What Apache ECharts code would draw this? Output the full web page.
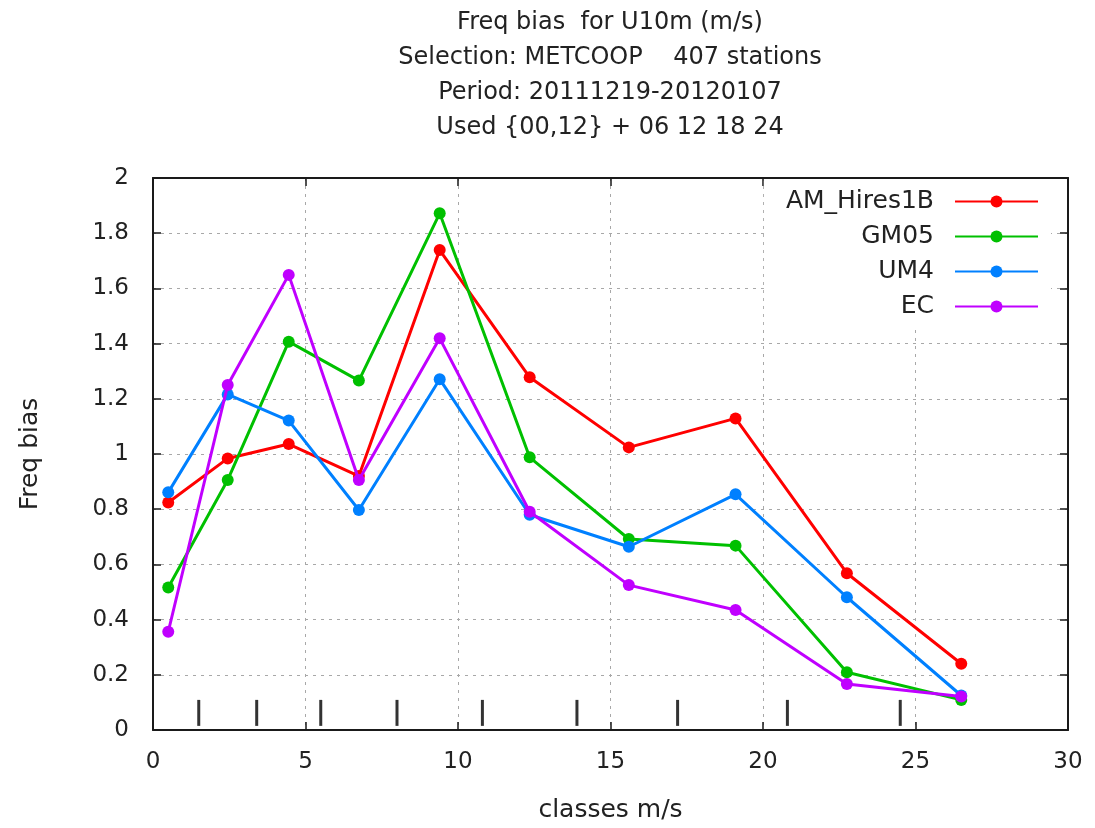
<!DOCTYPE html>
<html>
<head>
<meta charset="utf-8">
<script src="https://cdn.jsdelivr.net/npm/echarts@6/dist/echarts.min.js"></script>
<style>
  html, body { margin: 0; padding: 0; background: #fff; }
  #chart { width: 1095px; height: 828px; }
</style>
</head>
<body>
<div id="chart"></div>
<script>
// ---- data ----
const titleLines = [
  'Freq bias  for U10m (m/s)',
  'Selection: METCOOP    407 stations',
  'Period: 20111219-20120107',
  'Used {00,12} + 06 12 18 24'
];
const classCenters = [0.5, 2.45, 4.45, 6.75, 9.4, 12.35, 15.6, 19.1, 22.75, 26.5];
const classBounds = [1.5, 3.4, 5.5, 8.0, 10.8, 13.9, 17.2, 20.8, 24.5];
const boundMarkY = 0.062;
const seriesNames = ['AM_Hires1B', 'GM05', 'UM4', 'EC'];
const amHires1B = [0.824, 0.984, 1.036, 0.92, 1.739, 1.278, 1.024, 1.129, 0.568, 0.24];
const gm05      = [0.516, 0.906, 1.407, 1.266, 1.872, 0.988, 0.692, 0.668, 0.209, 0.109];
const um4       = [0.861, 1.216, 1.121, 0.797, 1.271, 0.78, 0.664, 0.854, 0.481, 0.125];
const ec        = [0.356, 1.25, 1.649, 0.906, 1.419, 0.791, 0.525, 0.435, 0.167, 0.121];
const colors = ['#ff0000', '#00c000', '#0080ff', '#c000ff'];
const xTicks = { min: 0, max: 30, interval: 5 };
const yTicks = { min: 0, max: 2, interval: 0.2 };

const FONT = 'DejaVu Sans';
const TXT = '#222';

function pairs(vals) { return classCenters.map((x, i) => [x, vals[i]]); }

const valueSets = [amHires1B, gm05, um4, ec];
const lineSeries = valueSets.map((vals, i) => ({
  name: seriesNames[i],
  type: 'line',
  data: pairs(vals),
  symbol: 'circle',
  symbolSize: 12,
  showSymbol: true,
  lineStyle: { color: colors[i], width: 3 },
  itemStyle: { color: colors[i] },
  emphasis: { disabled: true },
  z: 3 + i
}));

const boundSeries = {
  name: 'bounds',
  type: 'scatter',
  data: classBounds.map(x => [x, boundMarkY]),
  symbol: 'rect',
  symbolSize: [3, 26],
  itemStyle: { color: '#000' },
  silent: true,
  z: 2
};

const grid = { left: 153, right: 27, top: 178, bottom: 98, containLabel: false };
const splitStyle = { show: true, lineStyle: { color: '#a8a8a8', width: 1, type: [3, 5] } };
const axisLine = { show: true, onZero: false, lineStyle: { color: '#1a1a1a', width: 2 } };
const tick = { show: true, inside: true, length: 8, lineStyle: { color: '#1a1a1a', width: 1.5 } };

const chart = echarts.init(document.getElementById('chart'), null, { renderer: 'canvas' });
chart.setOption({
  backgroundColor: '#ffffff',
  animation: false,
  color: colors,
  title: {
    text: titleLines.join('\n'),
    left: 610,
    textAlign: 'center',
    top: 5,
    padding: 0,
    textStyle: { fontFamily: FONT, fontSize: 24, fontWeight: 'normal', color: TXT, lineHeight: 35 }
  },
  legend: {
    data: seriesNames,
    orient: 'vertical',
    align: 'right',
    right: 44,
    top: 179,
    padding: [10, 12, 6, 22],
    itemGap: 10,
    itemWidth: 83,
    itemHeight: 15,
    selectedMode: false,
    backgroundColor: '#ffffff',
    textStyle: { fontFamily: FONT, fontSize: 25, color: TXT, padding: [0, 16, 0, 0] }
  },
  grid: grid,
  xAxis: [
    {
      type: 'value', min: xTicks.min, max: xTicks.max, interval: xTicks.interval,
      name: 'classes m/s', nameLocation: 'middle', nameGap: 68,
      nameTextStyle: { fontFamily: FONT, fontSize: 25, color: TXT },
      axisLine: axisLine, axisTick: tick,
      axisLabel: { fontFamily: FONT, fontSize: 23, color: TXT, margin: 21 },
      splitLine: splitStyle
    },
    {
      type: 'value', position: 'top', min: xTicks.min, max: xTicks.max, interval: xTicks.interval,
      axisLine: axisLine, axisTick: tick, axisLabel: { show: false }, splitLine: { show: false }
    }
  ],
  yAxis: [
    {
      type: 'value', min: yTicks.min, max: yTicks.max, interval: yTicks.interval,
      name: 'Freq bias', nameLocation: 'middle', nameGap: 110,
      nameTextStyle: { fontFamily: FONT, fontSize: 25, color: TXT },
      axisLine: axisLine, axisTick: tick,
      axisLabel: { fontFamily: FONT, fontSize: 23, color: TXT, margin: 24 },
      splitLine: splitStyle
    },
    {
      type: 'value', position: 'right', min: yTicks.min, max: yTicks.max, interval: yTicks.interval,
      axisLine: axisLine, axisTick: tick, axisLabel: { show: false }, splitLine: { show: false }
    }
  ],
  series: [boundSeries].concat(lineSeries)
});
</script>
</body>
</html>
